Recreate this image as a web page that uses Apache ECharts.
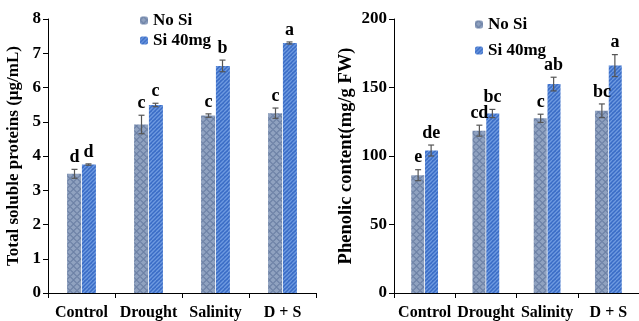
<!DOCTYPE html>
<html><head><meta charset="utf-8">
<script src="https://cdn.jsdelivr.net/npm/echarts@6/dist/echarts.min.js"></script>
<style>html,body{margin:0;padding:0;background:#fff}#c{width:639px;height:321px}</style>
</head><body><div id="c"></div>
<script>
const categories = ['Control', 'Drought', 'Salinity', 'D + S'];
const seriesNames = ['No Si', 'Si 40mg'];
// Left panel: Total soluble proteins
const proteinNoSi = [3.48, 4.92, 5.18, 5.25];
const proteinSi = [3.75, 5.49, 6.63, 7.30];
const proteinNoSiErr = [0.13, 0.27, 0.05, 0.15];
const proteinSiErr = [0.02, 0.05, 0.17, 0.03];
const proteinNoSiLetters = ['d', 'c', 'c', 'c'];
const proteinSiLetters = ['d', 'c', 'b', 'a'];
// Right panel: Phenolic content
const phenolNoSi = [86, 118.5, 127.5, 133];
const phenolSi = [104, 131, 152.5, 166];
const phenolNoSiErr = [4, 4, 3, 5];
const phenolSiErr = [4, 3, 5, 8];
const phenolNoSiLetters = ['e', 'cd', 'c', 'bc'];
const phenolSiLetters = ['de', 'bc', 'ab', 'a'];

function makePattern(kind) {
  const c = document.createElement('canvas');
  c.width = 7; c.height = 7;
  const g = c.getContext('2d');
  if (kind === 'cross') {
    g.fillStyle = '#90a2c0'; g.fillRect(0, 0, 7, 7);
    g.strokeStyle = '#6d81a5'; g.lineWidth = 1.1;
    g.beginPath();
    g.moveTo(0, 3.5); g.lineTo(3.5, 0); g.lineTo(7, 3.5); g.lineTo(3.5, 7); g.closePath();
    g.stroke();
  } else {
    c.width = 8; c.height = 8;
    g.fillStyle = '#3a6cc6'; g.fillRect(0, 0, 8, 8);
    g.strokeStyle = '#6e9ae0'; g.lineWidth = 1.3;
    for (let k = -8; k <= 16; k += 4) {
      g.beginPath(); g.moveTo(k, 8); g.lineTo(k + 8, 0); g.stroke();
    }
  }
  return { image: c, repeat: 'repeat' };
}
const patNoSi = makePattern('cross');
const patSi = makePattern('stripe');

const font = '"Liberation Serif", "Times New Roman", serif';
const chart = echarts.init(document.getElementById('c'), null, { renderer: 'canvas' });

function errSeries(name, vals, errs, letters, idx, sign, barW) {
  return {
    type: 'custom', xAxisIndex: idx, yAxisIndex: idx, silent: true, z: 10,
    data: vals.map((v, i) => [i, v, errs[i]]),
    renderItem: function (params, api) {
      const i = api.value(0), v = api.value(1), e = api.value(2);
      const letter = letters[i];
      const pTop = api.coord([i, v + e]);
      const pBot = api.coord([i, v - e]);
      const x = pTop[0] + sign * barW / 2;
      const cap = 3;
      return {
        type: 'group',
        children: [
          { type: 'line', shape: { x1: x, y1: pTop[1], x2: x, y2: pBot[1] }, style: { stroke: '#555', lineWidth: 1.2 } },
          { type: 'line', shape: { x1: x - cap, y1: pTop[1], x2: x + cap, y2: pTop[1] }, style: { stroke: '#555', lineWidth: 1.2 } },
          { type: 'line', shape: { x1: x - cap, y1: pBot[1], x2: x + cap, y2: pBot[1] }, style: { stroke: '#555', lineWidth: 1.2 } },
          { type: 'text', x: x, y: pTop[1] - 3, style: { text: letter, fill: '#000', font: 'bold 18px ' + font, align: 'center', verticalAlign: 'bottom' } }
        ]
      };
    }
  };
}

function barSeries(name, vals, idx, pat, barW) {
  return {
    name: name, type: 'bar', xAxisIndex: idx, yAxisIndex: idx,
    data: vals, barWidth: barW, barGap: '6%',
    itemStyle: { color: pat }
  };
}

const xAxisCommon = {
  type: 'category', data: categories,
  axisLine: { lineStyle: { color: '#000', width: 1 } },
  axisTick: { show: true, inside: false, length: 5, lineStyle: { color: '#000' } },
  axisLabel: { interval: 0, color: '#000', fontFamily: font, fontWeight: 'bold', fontSize: 16, margin: 12 }
};
const yAxisCommon = {
  type: 'value',
  axisLine: { show: true, lineStyle: { color: '#000', width: 1 } },
  axisTick: { show: true, inside: false, length: 5, lineStyle: { color: '#000' } },
  splitLine: { show: false },
  axisLabel: { color: '#000', fontFamily: font, fontWeight: 'bold', fontSize: 17, margin: 7 },
  nameLocation: 'middle',
  nameTextStyle: { color: '#000', fontFamily: font, fontWeight: 'bold', fontSize: 17 }
};

chart.setOption({
  animation: false,
  backgroundColor: '#fff',
  grid: [
    { left: 48, top: 19, width: 268, height: 274 },
    { left: 394, top: 19, width: 254, height: 274 }
  ],
  legend: [
    { data: seriesNames, left: 140, top: 12, orient: 'vertical', itemWidth: 8, itemHeight: 8, itemGap: 3,
      textStyle: { fontFamily: font, fontWeight: 'bold', fontSize: 17, color: '#000' }, padding: 0 },
    { data: seriesNames, left: 475, top: 16, orient: 'vertical', itemWidth: 8, itemHeight: 8, itemGap: 9,
      textStyle: { fontFamily: font, fontWeight: 'bold', fontSize: 17, color: '#000' }, padding: 0 }
  ],
  xAxis: [
    Object.assign({ gridIndex: 0 }, xAxisCommon),
    Object.assign({ gridIndex: 1 }, xAxisCommon)
  ],
  yAxis: [
    Object.assign({}, yAxisCommon, { gridIndex: 0, min: 0, max: 8, interval: 1, name: 'Total soluble proteins (µg/mL)', nameGap: 26 }),
    Object.assign({}, yAxisCommon, { gridIndex: 1, min: 0, max: 200, interval: 50, name: 'Phenolic content(mg/g FW)', nameGap: 38,
      nameTextStyle: { color: '#000', fontFamily: font, fontWeight: 'bold', fontSize: 18.5 } })
  ],
  series: [
    barSeries('No Si', proteinNoSi, 0, patNoSi, 14),
    barSeries('Si 40mg', proteinSi, 0, patSi, 14),
    barSeries('No Si', phenolNoSi, 1, patNoSi, 13),
    barSeries('Si 40mg', phenolSi, 1, patSi, 13),
    errSeries('e1', proteinNoSi, proteinNoSiErr, proteinNoSiLetters, 0, -1, 14),
    errSeries('e2', proteinSi, proteinSiErr, proteinSiLetters, 0, 1, 14),
    errSeries('e3', phenolNoSi, phenolNoSiErr, phenolNoSiLetters, 1, -1, 13),
    errSeries('e4', phenolSi, phenolSiErr, phenolSiLetters, 1, 1, 13)
  ]
});
</script></body></html>
